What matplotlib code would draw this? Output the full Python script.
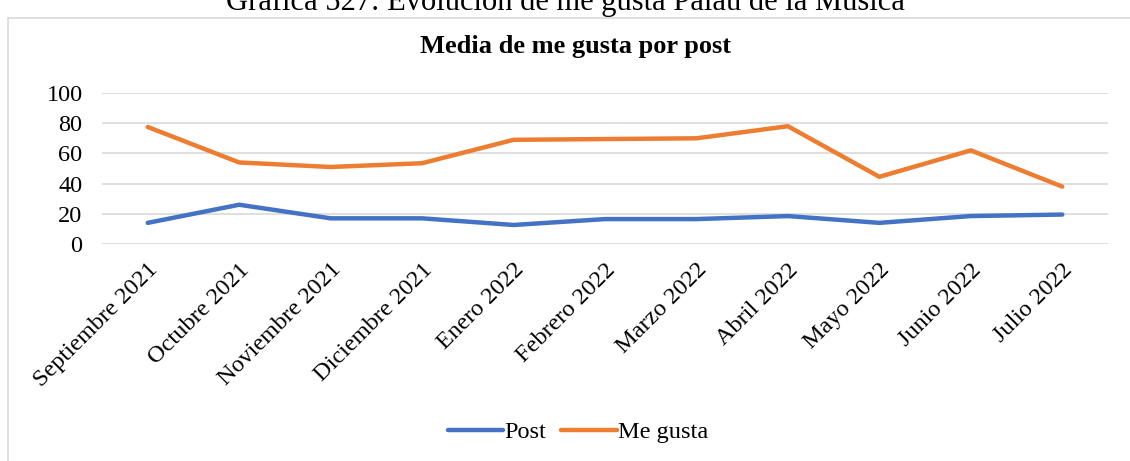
import matplotlib.pyplot as plt
from matplotlib.patches import Rectangle

# --- Datos ---
meses = ['Septiembre 2021', 'Octubre 2021', 'Noviembre 2021', 'Diciembre 2021',
         'Enero 2022', 'Febrero 2022', 'Marzo 2022', 'Abril 2022',
         'Mayo 2022', 'Junio 2022', 'Julio 2022']
post = [14, 26, 17, 17, 12.6, 16.5, 16.5, 18.5, 14, 18.5, 19.5]
me_gusta = [77.5, 54, 51, 53.5, 69, 69.5, 70, 78, 44.5, 62, 38]
y_ticks = [0, 20, 40, 60, 80, 100]

plt.rcParams['font.family'] = ['Liberation Serif', 'DejaVu Serif']

fig = plt.figure(figsize=(11.3, 4.61), dpi=100)
ax = fig.add_axes([102 / 1130, 1 - 244 / 461, (1108 - 102) / 1130, (244 - 93) / 461])

# marco gris del gráfico
fig.patches.append(Rectangle((8 / 1130, -0.01), 1.2, 1 - 18 / 461 + 0.01,
                             transform=fig.transFigure, fill=False,
                             edgecolor='#D9D9D9', linewidth=1.2))

x = list(range(len(meses)))
ax.plot(x, post, color='#4472C4', linewidth=3.2, solid_capstyle='round', label='Post')
ax.plot(x, me_gusta, color='#ED7D31', linewidth=3.2, solid_capstyle='round', label='Me gusta')

ax.set_xlim(-0.5, len(meses) - 0.5)
ax.set_ylim(0, 100)
ax.set_yticks(y_ticks)
ax.yaxis.grid(True, color='#D9D9D9', linewidth=1.2)
ax.set_axisbelow(True)
for s in ax.spines.values():
    s.set_visible(False)
ax.tick_params(axis='both', length=0, labelsize=17.5)
ax.tick_params(axis='y', pad=14)
ax.set_xticks(x)
ax.set_xticklabels(meses, rotation=45, ha='right', rotation_mode='anchor')
ax.tick_params(axis='x', pad=11)

# títulos (el de arriba queda cortado como en el original)
fig.text(0.5, 1 - 10 / 461, 'Gráfica 527: Evolución de me gusta Palau de la Música',
         ha='center', va='baseline', fontsize=22)
fig.text(575 / 1130, 1 - 46 / 461, 'Media de me gusta por post',
         ha='center', va='center', fontsize=19, fontweight='bold')

fig.legend(loc='center', bbox_to_anchor=(578 / 1130, 1 - 432 / 461), ncol=2,
           frameon=False, fontsize=17.5, handlelength=2.3, columnspacing=0.6,
           handletextpad=0.05)

plt.savefig('out.png', dpi=100)
